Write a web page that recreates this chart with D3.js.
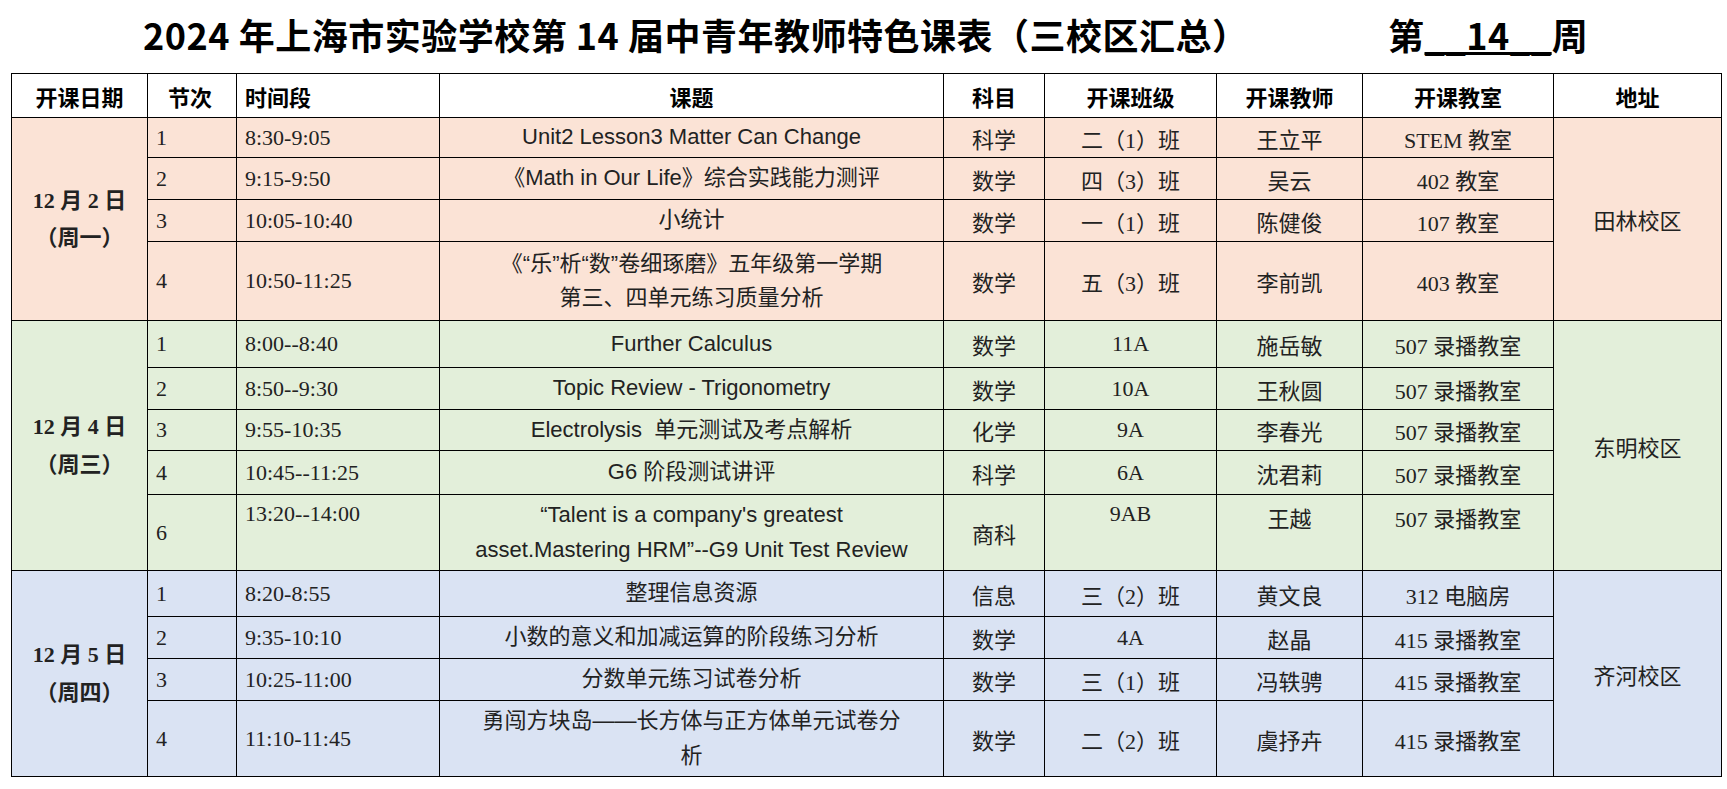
<!DOCTYPE html>
<html>
<head>
<meta charset="utf-8" />
<script src="https://d3js.org/d3.v7.min.js"></script>
<style>
  body { margin: 0; padding: 0; background: #fff; }
  #title { position: absolute; left: 0; top: 8px; width: 1727px; height: 50px; font: bold 36px "Noto Sans CJK SC", sans-serif; white-space: pre; letter-spacing: 0.5px; }
  #title span { position: absolute; top: 0; }
  table { position: absolute; left: 11px; top: 73px; border-collapse: collapse; table-layout: fixed; }
  td, th { border: 1.5px solid #000; padding: 0 8px; font: 22px "Liberation Serif", "Noto Sans CJK SC", serif; color: #222; overflow: hidden; }
  th { font: bold 22px "Noto Sans CJK SC", sans-serif; color: #000; }
  td.topic { font-family: "Liberation Sans", "Noto Sans CJK SC", sans-serif; text-align: center; line-height: 1.55; }
  td.c { text-align: center; }
  td.top { vertical-align: top; padding-top: 6px; }
  td.date { text-align: center; line-height: 1.7; font-weight: bold; }
</style>
</head>
<body>
<div id="title"><span style="left:143px">2024 年上海市实验学校第 14 届中青年教师特色课表（三校区汇总）</span><span style="left:1388px">第<u>__14__</u>周</span></div>
<table id="t"></table>
<script>
const headers = ['开课日期', '节次', '时间段', '课题', '科目', '开课班级', '开课教师', '开课教室', '地址']
const colWidths = [136, 89, 203, 504, 101, 172, 146, 191, 168]

const days = ['12 月 2 日<br>（周一）', '12 月 4 日<br>（周三）', '12 月 5 日<br>（周四）']
const campuses = ['田林校区', '东明校区', '齐河校区']
const dayColors = ['#fbe3d6', '#e3efda', '#dae3f3']

const periods = [['1','2','3','4'], ['1','2','3','4','6'], ['1','2','3','4']]
const times = [
  ['8:30-9:05', '9:15-9:50', '10:05-10:40', '10:50-11:25'],
  ['8:00--8:40', '8:50--9:30', '9:55-10:35', '10:45--11:25', '13:20--14:00'],
  ['8:20-8:55', '9:35-10:10', '10:25-11:00', '11:10-11:45']
]
const topics = [
  ['Unit2 Lesson3 Matter Can Change', '《Math in Our Life》综合实践能力测评', '小统计', '《“乐”析“数”卷细琢磨》五年级第一学期<br>第三、四单元练习质量分析'],
  ['Further Calculus', 'Topic Review - Trigonometry', 'Electrolysis &nbsp;单元测试及考点解析', 'G6 阶段测试讲评', '“Talent is a company\'s greatest<br>asset.Mastering HRM”--G9 Unit Test Review'],
  ['整理信息资源', '小数的意义和加减运算的阶段练习分析', '分数单元练习试卷分析', '勇闯方块岛——长方体与正方体单元试卷分<br>析']
]
const subjects = [['科学','数学','数学','数学'], ['数学','数学','化学','科学','商科'], ['信息','数学','数学','数学']]
const classes = [['二（1）班','四（3）班','一（1）班','五（3）班'], ['11A','10A','9A','6A','9AB'], ['三（2）班','4A','三（1）班','二（2）班']]
const teachers = [['王立平','吴云','陈健俊','李前凯'], ['施岳敏','王秋圆','李春光','沈君莉','王越'], ['黄文良','赵晶','冯轶骋','虞抒卉']]
const rooms = [['STEM 教室','402 教室','107 教室','403 教室'], ['507 录播教室','507 录播教室','507 录播教室','507 录播教室','507 录播教室'], ['312 电脑房','415 录播教室','415 录播教室','415 录播教室']]

// layout only
const headerH = 44
const rowHeights = [[40, 42, 42, 79], [47, 42, 41, 44, 76], [46, 42, 42, 76]]

const table = d3.select('#t')
table.append('colgroup').selectAll('col').data(colWidths).join('col').style('width', d => d + 'px')
table.append('tr').style('height', headerH + 'px')
  .selectAll('th').data(headers).join('th')
  .style('text-align', (d, i) => (i === 1 || i === 2) ? 'left' : 'center')
  .style('padding-left', (d, i) => i === 1 ? '20px' : '8px')
  .text(d => d)

days.forEach((day, g) => {
  periods[g].forEach((p, r) => {
    const tall = rowHeights[g][r] > 70 && g === 1
    const tr = table.append('tr').style('height', rowHeights[g][r] + 'px').style('background', dayColors[g])
    if (r === 0) tr.append('td').attr('class', 'date').attr('rowspan', periods[g].length).html(day)
    tr.append('td').text(p)
    tr.append('td').attr('class', tall ? 'top' : null).text(times[g][r])
    tr.append('td').attr('class', 'topic').html(topics[g][r])
    tr.append('td').attr('class', 'c').text(subjects[g][r])
    tr.append('td').attr('class', 'c' + (tall ? ' top' : '')).text(classes[g][r])
    tr.append('td').attr('class', 'c' + (tall ? ' top' : '')).text(teachers[g][r])
    tr.append('td').attr('class', 'c' + (tall ? ' top' : '')).text(rooms[g][r])
    if (r === 0) tr.append('td').attr('class', 'c').attr('rowspan', periods[g].length).text(campuses[g])
  })
})
</script>
</body>
</html>
